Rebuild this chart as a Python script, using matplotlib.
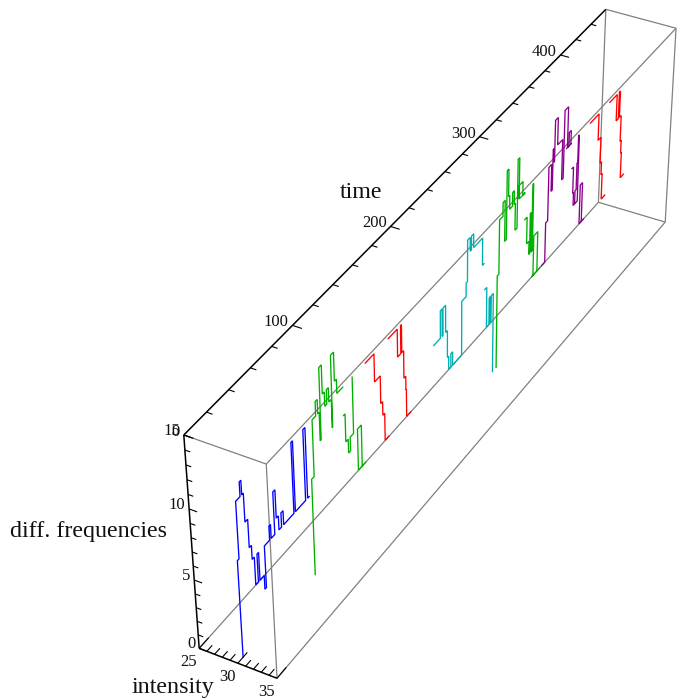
import numpy as np
import matplotlib
matplotlib.use('Agg')
import matplotlib.pyplot as plt

# ---------- data (time, diff. frequency) at one intensity ----------
intensity_level = 30.0
blue_t = [5,5,6.5,6.5,10.5,10.5,12,12,13.5,13.5,16,16,18,18,20,20,22.5,22.5,24,24,28,28,29.5,29.5,34.5,34.5,36,36,39.5,39.5,41.5,41.5,43.5,43.5,46,46,48,48,58,58,59.5,59.5,69.5,69.5,71.5,71.5,73]
blue_f = [0,7,7,11,11,12,12,11,11,9,9,7,7,6,6,4,4,6,6,4,4,3,3,6,6,7,7,6,6,9,9,7,7,6,6,7,7,6,6,11,11,6,6,11,11,6,6]
green1_t = [76,76,78.5,78.5,82,82,84,84,85.5,85.5,86.5,86.5,89,89,91,91,93,93,95,95,97.5,97.5,98,98,101,101,103,103,109]
green1_f = [0,7,7,11,11,12,12,11,11,9,9,14,14,12,12,11,11,12,12,11,11,9,9,14,14,12,12,11,11]
green2_t = [109,110.5,110.5,113,113,115,115,118.5,118.5]
green2_f = [9,9,7,7,6,6,7,7,11]
green3_t = [130,122.5,122.5,126.5,126.5]
green3_f = [4,4,7,7,4]
red1_t = [132,141,141,147,147,149,149,151,151,155]
red1_f = [11,11,9,9,7,7,6,6,4,4]
red2_t = [156,165.5,165.5,169,169,170,170,172,172,174,174,174.5,174.5,179]
red2_f = [11,11,9,9,11,11,9,9,7,7,6,6,4,4]
cyan1_t = [205,212.5,212.5,214.5,214.5,215.5,215.5,218.5,218.5,220.5,220.5,222,222,224.5,224.5,226.5,226.5,237,237,242,242,243.5,243.5,246.5,246.5,248,248,250.5,250.5,261,261,263]
cyan1_f = [7,7,9,9,7,7,9,9,7,7,5,5,4,4,5,5,4,4,8,8,9,9,12,12,11,11,12,12,11,11,9,9]
cyan2_t = [264,266.5,266.5,269.5,269.5,271,271,272,272,274.5,274.5]
cyan2_f = [7,7,4,4,6,6,4,4,6,6,0]
green4_t = [279,279,281,281,285,285,287.5,287.5,289.5,289.5,291.5,291.5,293,293,296.5,296.5,298.5,298.5,300,300,302.5,302.5,304.5,304.5,304.5,309,309,312,306]
green4_f = [0,7,7,11,11,12,12,9,9,14,14,12,12,11,11,12,12,11,11,9,9,14,14,11,12,12,11,11,11]
green5_t = [312,315,315,318,318,319,319,320.5,320.5,321.5,321.5,322.5,322.5]
green5_f = [9,9,7,7,6,6,9,9,6,6,11,11,6]
green6_t = [333,322,324,324,329,329]
green6_f = [4,4,4,7,7,4]
purple1_t = [335,339,339,341.5,341.5,345,345,346.5,346.5,347.5,347.5,348.5,348.5,352,352,358.5,358.5,360.5,360.5,365,365,367,367,369.5,369.5,370,364]
purple1_f = [4,4,7,7,11,11,9,9,12,12,11,11,14,14,12,12,9,9,14,14,11,11,12,12,11,11,11]
purple2_t = [372,374,374,375,375,377,377,378.5,378.5,379.5,379.5,380.5,380.5,378]
purple2_f = [9,9,7,7,6,6,7,7,9,9,11,11,6,6]
purple3_t = [390,384,384,387,387]
purple3_f = [4,4,7,7,4]
red3_t = [395,406.5,406.5,410.5,410.5,412.5,412.5,414,414,419]
red3_f = [11,11,9,9,7,7,6,6,4,4]
red4_t = [421,431,431,434,434,435.5,435.5,438,438,439.5,439.5,440.5,440.5,445]
red4_f = [11,11,9,9,11,11,9,9,7,7,6,6,4,4]

BLUE, GREEN, RED, CYAN, PURPLE = '#0000ff', '#00b000', '#ff0000', '#00b0b0', '#8b008b'
series = [(blue_t, blue_f, BLUE), (green1_t, green1_f, GREEN), (green2_t, green2_f, GREEN),
          (green3_t, green3_f, GREEN), (red1_t, red1_f, RED), (red2_t, red2_f, RED),
          (cyan1_t, cyan1_f, CYAN), (cyan2_t, cyan2_f, CYAN), (green4_t, green4_f, GREEN),
          (green5_t, green5_f, GREEN), (green6_t, green6_f, GREEN), (purple1_t, purple1_f, PURPLE),
          (purple2_t, purple2_f, PURPLE), (purple3_t, purple3_f, PURPLE), (red3_t, red3_f, RED), (red4_t, red4_f, RED)]

time_max = 460.0
time_labels = [0, 100, 200, 300, 400]
freq_labels = [0, 5, 10, 15]
intensity_labels = [25, 30, 35]

# ---------- camera: the reference's perspective, fitted on its box ----------
camera_refs = [((0,25,15),(184,435)),((0,25,0),(199,648.3)),((0,35,0),(276.7,677.7)),((0,35,15),(266,464.3)),
    ((time_max,25,15),(605.7,9.3)),((time_max,35,15),(676,28.3)),((time_max,25,0),(598.3,202.3)),((time_max,35,0),(665.7,222.3)),
    ((100,25,15),(293.3,325)),((200,25,15),(390,226)),((300,25,15),(480,136.7)),((400,25,15),(560,55)),
    ((0,25,10),(189.3,510)),((0,25,5),(194.2,580))]
rows = []
for (X, Y, Z), (u, v) in camera_refs:
    h = [X/100, Y/10, Z/10, 1]
    rows.append(h + [0,0,0,0] + [-u/100*c for c in h])
    rows.append([0,0,0,0] + h + [-v/100*c for c in h])
P = np.linalg.svd(np.array(rows))[2][-1].reshape(3, 4)
P = np.diag([100, 100, 1.0]) @ P @ np.diag([1/100, 1/10, 1/10, 1.0])
null = np.linalg.svd(P)[2][-1]
M = np.vstack([P[0], P[1], null * np.abs(P).max(), P[2]])

plt.rcParams['font.family'] = ['Liberation Serif', 'DejaVu Serif']
fig = plt.figure(figsize=(6.8, 7), dpi=100)
ax = fig.add_axes([0, 0, 1, 1], projection='3d', computed_zorder=False, proj_type='ortho')
ax.set_axis_off()
ax.set_xlim(0, time_max); ax.set_ylim(25, 35); ax.set_zlim(0, 15)
ax.get_proj = lambda: M
ax.apply_aspect = lambda position=None: None
ax.patch.set_facecolor('white')

GRAY = '#808080'
def seg(a, b, color=GRAY, lw=0.9, z=1):
    ax.plot([a[0], b[0]], [a[1], b[1]], [a[2], b[2]], color=color, lw=lw, zorder=z, solid_capstyle='butt')

T = time_max
for a, b in [((0,25,15),(0,35,15)), ((0,35,15),(0,35,0)), ((0,35,15),(T,35,15)), ((0,35,0),(T,35,0)),
             ((T,35,15),(T,35,0)), ((T,25,15),(T,35,15)), ((T,25,15),(T,25,0)), ((T,25,0),(T,35,0)),
             ((0,25,0),(T,25,0))]:
    seg(a, b)
for a, b in [((0,25,15),(T,25,15)), ((0,25,15),(0,25,0)), ((0,25,0),(0,35,0))]:
    seg(a, b, color='black', lw=1.1, z=3)

for t in np.arange(0, T, 20):
    major = t % 100 == 0
    seg((t,25,15), (t, 25 + (1.2 if major else 0.75), 15), color='black', lw=0.8, z=3)
for f in range(0, 16):
    major = f % 5 == 0
    seg((0,25,f), (0, 25 + (1.0 if major else 0.65), f), color='black', lw=0.8, z=3)
for i in range(25, 36):
    major = i % 5 == 0
    seg((0,i,0), ((9 if major else 5), i, 0), color='black', lw=0.8, z=3)

for t_vals, f_vals, c in series:
    ax.plot(t_vals, [intensity_level]*len(t_vals), f_vals, color=c, lw=0.95, zorder=2, solid_joinstyle='miter')

def label_at(t, i, f, s, dx=0, dy=0, size=12, ha='right'):
    w = P @ np.array([t, i, f, 1.0])
    u, v = w[0]/w[2] + dx, w[1]/w[2] + dy
    fig.text(u/680, 1 - v/700, s, ha=ha, va='center', fontsize=size, color='#111111')

for t in time_labels:
    label_at(t, 25, 15, str(t), dx=-4, dy=-3)
for f in freq_labels:
    label_at(0, 25, f, str(f), dx=-4, dy=-4)
for i in intensity_labels:
    label_at(-10, i, -0.1, str(i), ha='center')

LABEL = 17.3
fig.text(173/680, 1-688/700, 'intensity', ha='center', va='center', fontsize=LABEL, color='#111111')
fig.text(361/680, 1-192.5/700, 'time', ha='center', va='center', fontsize=LABEL, color='#111111')
fig.text(88.5/680, 1-532/700, 'diff. frequencies', ha='center', va='center', fontsize=LABEL, color='#111111')

ax.viewLim.intervalx = (0, 680)
ax.viewLim.intervaly = (700, 0)
fig.savefig('out.png', dpi=100)
